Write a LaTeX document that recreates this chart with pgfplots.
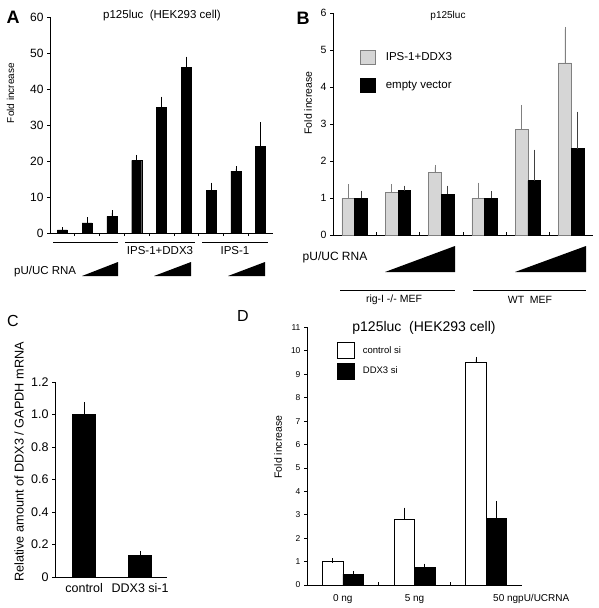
\documentclass[border=0pt]{standalone}
\usepackage{pgfplots}
\pgfplotsset{compat=1.18}
\usepackage{fontspec}
\setmainfont{Liberation Sans}
\definecolor{lgray}{gray}{0.84}
\definecolor{dgray}{gray}{0.5}
\newcommand{\fs}[1]{\fontsize{#1}{#1}\selectfont}
\pgfplotsset{
  panel/.style={scale only axis, anchor=south west,
    axis x line*=bottom, axis y line*=left,
    axis line style={line width=0.8pt},
    tick style={black, line width=0.7pt},
    major tick length=3pt, tick align=outside,
    /pgf/number format/assume math mode=true,
    enlarge x limits=false, clip=false,
    ybar=0pt},
  ebar/.style={error bars/.cd, y dir=plus, y explicit,
    error bar style={line width=0.6pt, #1},
    error mark options={mark size=2.5pt, line width=0.6pt, #1}},
  ebar/.default={black},
}
\begin{document}
\begin{tikzpicture}
\useasboundingbox (0,0) rectangle (598pt,-608pt);
\fill[white] (0,0) rectangle (598pt,-608pt);
% ---------------- A
\begin{axis}[panel, at={(50pt,-233pt)}, width=223pt, height=216pt,
  xmin=0.5, xmax=9.5, ymin=0, ymax=60, ytick={0,10,...,60},
  xtick={1.5,2.5,...,8.5}, xticklabels={},
  bar width=10pt, yticklabel style={font=\fs{12}}]
\addplot[fill=black, draw=black, ebar] coordinates {
 (1,0.9) +- (0,0) (2,2.8) +- (0,0.9) (3,4.6) +- (0,1.0)
 (4,20.2) +- (0,0.8) (5,34.9) +- (0,2.3) (6,46.1) +- (0,2.2)
 (7,11.9) +- (0,1.4) (8,17.2) +- (0,0.6) (9,24.1) +- (0,6.0)};
\end{axis}
\node[font=\bfseries\fs{18}] at (13pt,-17pt) {A};
\node[font=\fs{11.5}] at (162pt,-16pt) {p125luc\ \ (HEK293 cell)};
\node[rotate=90, font=\fs{10}] at (10.5pt,-93pt) {Fold increase};
\draw[line width=0.8pt] (53pt,-242pt) -- (118pt,-242pt);
\draw[line width=0.8pt] (125pt,-242pt) -- (195pt,-242pt);
\draw[line width=0.8pt] (202pt,-242pt) -- (268pt,-242pt);
\node[font=\fs{11.5}] at (160pt,-251pt) {IPS-1+DDX3};
\node[font=\fs{11.5}] at (235pt,-251pt) {IPS-1};
\node[font=\fs{11.5}, anchor=west, inner sep=0pt] at (14pt,-272pt) {pU/UC RNA};
\fill (82pt,-276pt) -- (118pt,-276pt) -- (118pt,-262pt) -- cycle;
\fill (154pt,-276pt) -- (191pt,-276pt) -- (191pt,-262pt) -- cycle;
\fill (228pt,-276pt) -- (265pt,-276pt) -- (265pt,-262pt) -- cycle;
% ---------------- B
\begin{axis}[panel, at={(333pt,-235pt)}, width=260pt, height=222pt,
  xmin=0.5, xmax=6.5, ymin=0, ymax=6, ytick={0,...,6},
  xtick={1.5,2.5,...,5.5}, xticklabels={}, xtick align=inside,
  bar width=12.7pt, yticklabel style={font=\fs{10.5}},
  legend image code/.code={\draw[#1] (0pt,-7pt) rectangle (15pt,7pt);},
  legend style={draw=none, fill=none, at={(0.104,0.833)}, anchor=north west,
    font=\fs{11.5}, row sep=13pt, inner sep=0pt, nodes={inner sep=2pt},
    /tikz/every odd column/.style={column sep=8pt}},
  legend cell align=left]
\addplot[fill=lgray, draw=dgray, line width=0.6pt, ebar=dgray] coordinates {
 (1,1.0) +- (0,0.31) (2,1.15) +- (0,0.16) (3,1.70) +- (0,0.13)
 (4,1.0) +- (0,0.35) (5,2.85) +- (0,0.60) (6,4.65) +- (0,0.91)};
\addplot[fill=black, draw=black, line width=0.6pt, ebar=black!75] coordinates {
 (1,1.0) +- (0,0.13) (2,1.2) +- (0,0.07) (3,1.1) +- (0,0.17)
 (4,1.0) +- (0,0.12) (5,1.47) +- (0,0.77) (6,2.33) +- (0,0.94)};
\legend{IPS-1+DDX3, empty vector}
\end{axis}
\node[font=\bfseries\fs{18}] at (303pt,-18pt) {B};
\node[font=\fs{10}] at (448pt,-16pt) {p125luc};
\node[rotate=90, font=\fs{10.5}] at (308pt,-103pt) {Fold increase};
\node[font=\fs{12}] at (335pt,-257pt) {pU/UC RNA};
\fill (385pt,-272pt) -- (455pt,-272pt) -- (455pt,-246pt) -- cycle;
\fill (515pt,-272pt) -- (586pt,-272pt) -- (586pt,-246pt) -- cycle;
\draw[line width=0.8pt] (340pt,-290pt) -- (455pt,-290pt);
\draw[line width=0.8pt] (473pt,-290pt) -- (586pt,-290pt);
\node[font=\fs{10.5}] at (394pt,-300pt) {rig-I -/- MEF};
\node[font=\fs{10.5}] at (530pt,-300pt) {WT\ \ MEF};
% ---------------- C
\begin{axis}[panel, at={(55pt,-577pt)}, width=112pt, height=195pt,
  xmin=0.48, xmax=2.48, ymin=0, ymax=1.2,
  ytick={0,0.2,0.4,0.6,0.8,1.0,1.2}, yticklabels={0,0.2,0.4,0.6,0.8,1.0,1.2},
  xtick={1,2}, xticklabels={control, DDX3 si-1}, xtick style={draw=none},
  bar width=23pt, yticklabel style={font=\fs{12.5}}, xticklabel style={font=\fs{12.5}}]
\addplot[fill=black, draw=black, ebar] coordinates {
 (1,1.0) +- (0,0.06) (2,0.135) +- (0,0.01)};
\end{axis}
\node[font=\fs{16}] at (13pt,-321pt) {C};
\node[rotate=90, font=\fs{12.7}] at (19pt,-462pt) {Relative amount of DDX3 / GAPDH mRNA};
% ---------------- D
\begin{axis}[panel, at={(307pt,-585pt)}, width=215pt, height=257.6pt,
  xmin=0.5, xmax=3.5, ymin=0, ymax=11, ytick={0,...,11},
  xtick={1.5,2.5}, xticklabels={}, xtick align=inside,
  bar width=20.5pt, yticklabel style={font=\fs{8.5}},
  legend image code/.code={\draw[#1] (0pt,-8pt) rectangle (17pt,8pt);},
  legend style={draw=none, fill=none, at={(0.14,0.943)}, anchor=north west,
    font=\fs{9.5}, row sep=4pt, inner sep=0pt, nodes={inner sep=2pt},
    /tikz/every odd column/.style={column sep=6pt}},
  legend cell align=left]
\addplot[fill=white, draw=black, line width=0.6pt, ebar] coordinates {
 (1,1.0) +- (0,0.04) (2,2.8) +- (0,0.4) (3,9.5) +- (0,0.13)};
\addplot[fill=black, draw=black, line width=0.6pt, ebar] coordinates {
 (1,0.47) +- (0,0.03) (2,0.75) +- (0,0.06) (3,2.85) +- (0,0.64)};
\legend{control si, DDX3 si}
\node[font=\fs{10}] at (axis cs:1,0) [yshift=-14pt] {0 ng};
\node[font=\fs{10}] at (axis cs:2,0) [yshift=-14pt] {5 ng};
\end{axis}
\node[font=\fs{10}, anchor=west, inner sep=0pt] at (493pt,-599pt) {50 ngpU/UCRNA};
\node[font=\fs{16}] at (243pt,-316pt) {D};
\node[font=\fs{14}] at (424pt,-328pt) {p125luc\ \ (HEK293 cell)};
\node[rotate=90, font=\fs{10.5}] at (278pt,-447pt) {Fold increase};
\end{tikzpicture}
\end{document}
